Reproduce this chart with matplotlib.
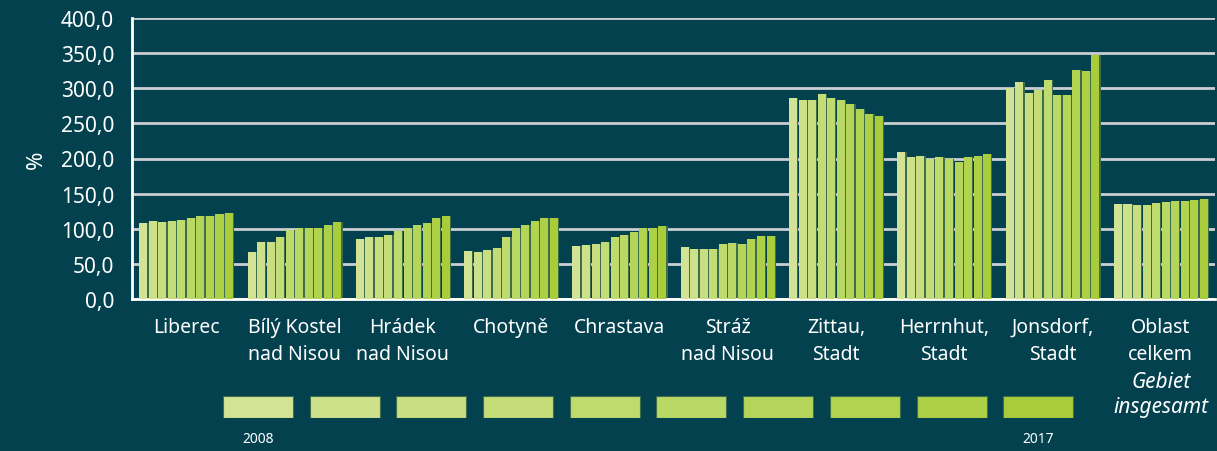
import numpy as np
import matplotlib.pyplot as plt
from matplotlib.ticker import FuncFormatter

# values in %, years 2008..2017 for each place
categories = ["Liberec", "Bílý Kostel\nnad Nisou", "Hrádek\nnad Nisou", "Chotyně",
              "Chrastava", "Stráž\nnad Nisou", "Zittau,\nStadt", "Herrnhut,\nStadt",
              "Jonsdorf,\nStadt", "Oblast\ncelkem"]
years = list(range(2008, 2018))

liberec = [108.6, 111.4, 110.0, 111.4, 112.9, 115.7, 118.6, 118.6, 121.4, 122.9]
bily_kostel = [67.1, 81.4, 81.4, 88.6, 98.6, 101.4, 101.4, 101.4, 105.7, 110.0]
hradek = [85.7, 88.6, 88.6, 91.4, 97.1, 101.4, 105.7, 108.6, 115.7, 118.6]
chotyne = [68.6, 67.1, 70.0, 72.9, 88.6, 101.4, 105.7, 111.4, 115.7, 115.7]
chrastava = [75.7, 77.1, 78.6, 81.4, 88.6, 91.4, 95.7, 101.4, 101.4, 104.3]
straz = [74.3, 71.4, 71.4, 71.4, 78.6, 80.0, 78.6, 85.7, 90.0, 90.0]
zittau = [286.2, 283.4, 283.4, 291.9, 286.2, 283.4, 277.7, 270.6, 263.4, 260.6]
herrnhut = [209.0, 201.9, 203.3, 199.0, 201.9, 199.0, 194.8, 201.9, 203.3, 206.2]
jonsdorf = [300.5, 309.0, 293.4, 297.6, 311.9, 290.5, 290.5, 326.1, 324.7, 347.5]
oblast = [135.3, 135.3, 133.9, 133.9, 136.7, 138.1, 139.5, 139.5, 141.0, 142.4]

data = np.array([liberec, bily_kostel, hradek, chotyne, chrastava, straz,
                 zittau, herrnhut, jonsdorf, oblast])

bg = "#03414f"
colors = ["#d3e396", "#cde08a", "#c8de80", "#c3dc77", "#bfda6d",
          "#bad865", "#b5d55a", "#b1d350", "#aed046", "#a9cd3a"]
shadow = "#3f6e4c"

plt.rcParams["font.family"] = ["Noto Sans", "DejaVu Sans"]

fig = plt.figure(figsize=(12.17, 4.52), dpi=100, facecolor=bg)
ax = fig.add_axes([132 / 1217, 1 - 300 / 452, 1083 / 1217, 281 / 452])
ax.set_facecolor(bg)

x = np.arange(len(categories))
step = 0.088
w = 0.074
for j in range(len(years)):
    pos = x + (j - 4.5) * step
    ax.bar(pos + 0.012, data[:, j], width=w, color=shadow, zorder=2)
    ax.bar(pos, data[:, j], width=w, color=colors[j], zorder=3)

ax.set_ylim(0, 400)
ax.set_xlim(-0.5, len(categories) - 0.5)
ax.set_yticks(np.arange(0, 401, 50))
ax.yaxis.set_major_formatter(FuncFormatter(lambda v, p: f"{v:.1f}".replace(".", ",")))
ax.grid(axis="y", color="#c9cfd2", linewidth=2, zorder=1)
ax.set_axisbelow(True)
for s in ["top", "right"]:
    ax.spines[s].set_visible(False)
for s in ["left", "bottom"]:
    ax.spines[s].set_color("white")
    ax.spines[s].set_linewidth(2)
ax.tick_params(axis="y", length=0, pad=13, labelsize=15, labelcolor="white")
ax.tick_params(axis="x", length=0, pad=13, labelsize=14, labelcolor="white")
ax.set_xticks(x)
ax.set_xticklabels(categories, linespacing=1.45)
ax.text(9, -0.255, "Gebiet\ninsgesamt", transform=ax.get_xaxis_transform(),
        ha="center", va="top", color="white", fontsize=15, style="italic",
        linespacing=1.3)

ax.set_ylabel("%", color="white", fontsize=16, labelpad=10)

# legend strip
lax = fig.add_axes([214.6 / 1217, 1 - 419 / 452, 867 / 1217, 22 / 452])
lax.set_facecolor(bg)
lax.bar(np.arange(len(years)), [1] * len(years), width=0.807, color=colors,
        edgecolor=shadow, linewidth=0.8)
lax.set_xlim(-0.5, len(years) - 0.5)
lax.set_ylim(0, 1)
lax.axis("off")
lax.text(0, -0.95, str(years[0]), ha="center", va="center", color="white", fontsize=10)
lax.text(9, -0.95, str(years[-1]), ha="center", va="center", color="white", fontsize=10)

fig.savefig("out.png", dpi=100, facecolor=bg)
